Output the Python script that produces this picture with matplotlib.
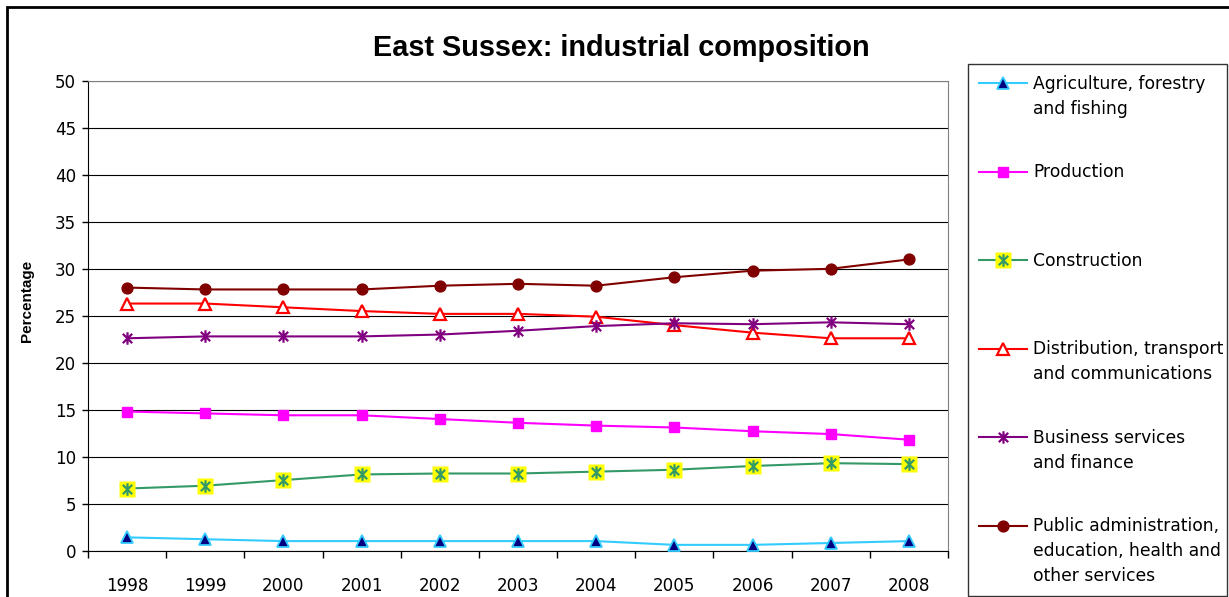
import matplotlib
matplotlib.use("Agg")
import matplotlib.pyplot as plt
from matplotlib.patches import Rectangle
from matplotlib.path import Path
from matplotlib.legend_handler import HandlerTuple

plt.rcParams['font.family'] = ['DejaVu Sans']

years = ['1998', '1999', '2000', '2001', '2002', '2003', '2004', '2005', '2006', '2007', '2008']
agriculture = [1.4, 1.2, 1.0, 1.0, 1.0, 1.0, 1.0, 0.6, 0.6, 0.8, 1.0]
production = [14.8, 14.6, 14.4, 14.4, 14.0, 13.6, 13.3, 13.1, 12.7, 12.4, 11.8]
construction = [6.6, 6.9, 7.5, 8.1, 8.2, 8.2, 8.4, 8.6, 9.0, 9.3, 9.2]
distribution = [26.3, 26.3, 25.9, 25.5, 25.2, 25.2, 24.9, 24.0, 23.2, 22.6, 22.6]
business = [22.6, 22.8, 22.8, 22.8, 23.0, 23.4, 23.9, 24.2, 24.1, 24.3, 24.1]
public = [28.0, 27.8, 27.8, 27.8, 28.2, 28.4, 28.2, 29.1, 29.8, 30.0, 31.0]

labels = ['Agriculture, forestry\nand fishing', 'Production', 'Construction',
          'Distribution, transport\nand communications', 'Business services\nand finance',
          'Public administration,\neducation, health and\nother services']

W, H = 1229, 597
fig = plt.figure(figsize=(W / 100, H / 100), dpi=100)
ax = fig.add_axes([88 / W, 1 - 550.5 / H, (948 - 88) / W, (550.5 - 81) / H])

# Excel-style star: vertical bar plus an X
ast = Path([(0, -1), (0, 1), (-0.75, -0.75), (0.75, 0.75), (-0.75, 0.75), (0.75, -0.75)],
           [Path.MOVETO, Path.LINETO, Path.MOVETO, Path.LINETO, Path.MOVETO, Path.LINETO])

x = list(range(len(years)))
h1, = ax.plot(x, agriculture, color='#33CCFF', lw=1.5, marker='^', ms=8.5,
              mfc='#000080', mec='#33CCFF', mew=1.3, zorder=3)
h2, = ax.plot(x, production, color='#FF00FF', lw=1.5, marker='s', ms=7,
              mfc='#FF00FF', mec='#FF00FF', zorder=3)
h3a, = ax.plot(x, construction, color='#339966', lw=1.5, marker='s', ms=11,
               mfc='#FFFF00', mec='none', zorder=3)
h3b, = ax.plot(x, construction, color='#339966', lw=0, marker=ast, ms=9,
               mec='#339966', mew=1.6, zorder=4)
h4, = ax.plot(x, distribution, color='#FF0000', lw=1.5, marker='^', ms=9,
              mfc='white', mec='#FF0000', mew=1.6, zorder=3)
h5, = ax.plot(x, business, color='#800080', lw=1.5, marker=ast, ms=9,
              mec='#800080', mew=1.6, zorder=3)
h6, = ax.plot(x, public, color='#800000', lw=1.5, marker='o', ms=7.8,
              mfc='#800000', mec='#800000', zorder=3)

ax.set_xlim(-0.5, len(years) - 0.5)
ax.set_ylim(0, 50)
ax.set_yticks(range(0, 51, 5))
ax.yaxis.grid(True, color='#000000', lw=0.8)
ax.set_axisbelow(True)
ax.set_xticks([i - 0.5 for i in range(len(years) + 1)])
ax.set_xticklabels([])
ax.set_xticks(x, minor=True)
ax.set_xticklabels(years, minor=True)
ax.tick_params(axis='x', which='minor', length=0, pad=19, labelsize=12.1)
ax.tick_params(axis='x', which='major', length=5, direction='out', width=1)
ax.tick_params(axis='y', length=4.5, direction='out', width=1, labelsize=12.1, pad=4)
for s in ['top', 'right']:
    ax.spines[s].set_color('#808080')
ax.spines['left'].set_color('black')
ax.spines['bottom'].set_color('black')

fig.text(27 / W, 1 - 301 / H, 'Percentage', fontsize=11, fontweight='bold',
         rotation=90, ha='center', va='center', family='Liberation Sans')

fig.text(621 / W, 1 - 56 / H, 'East Sussex: industrial composition', fontsize=20.8,
         fontweight='bold', ha='center', va='baseline', family='Liberation Sans')

# outer chart border
fig.patches.append(Rectangle((7 / W, -0.1), 1.2, 1 - 7 / H + 0.1, transform=fig.transFigure,
                             fill=False, ec='black', lw=2, zorder=0))

padded = [lab + '\n' * (2 - lab.count('\n')) for lab in labels]
leg = fig.legend([h1, h2, (h3a, h3b), h4, h5, h6], padded,
                 handler_map={tuple: HandlerTuple(ndivide=1)},
                 loc='upper left',
                 bbox_to_anchor=(968 / W, 1 - 64 / H - 0.01, (1227 - 968) / W, 0.01),
                 mode='expand',
                 fontsize=12.3, frameon=True, fancybox=False, edgecolor='black',
                 borderaxespad=0, borderpad=0.62, labelspacing=1.2, handlelength=2.85,
                 handleheight=1.75, handletextpad=0.36)
leg.get_frame().set_linewidth(1)
for t in leg.get_texts():
    t.set_linespacing(1.5)
for col in leg._legend_handle_box.get_children():
    for row in col.get_children():
        row.align = 'top'

fig.savefig('out.png', dpi=100, facecolor='white')
